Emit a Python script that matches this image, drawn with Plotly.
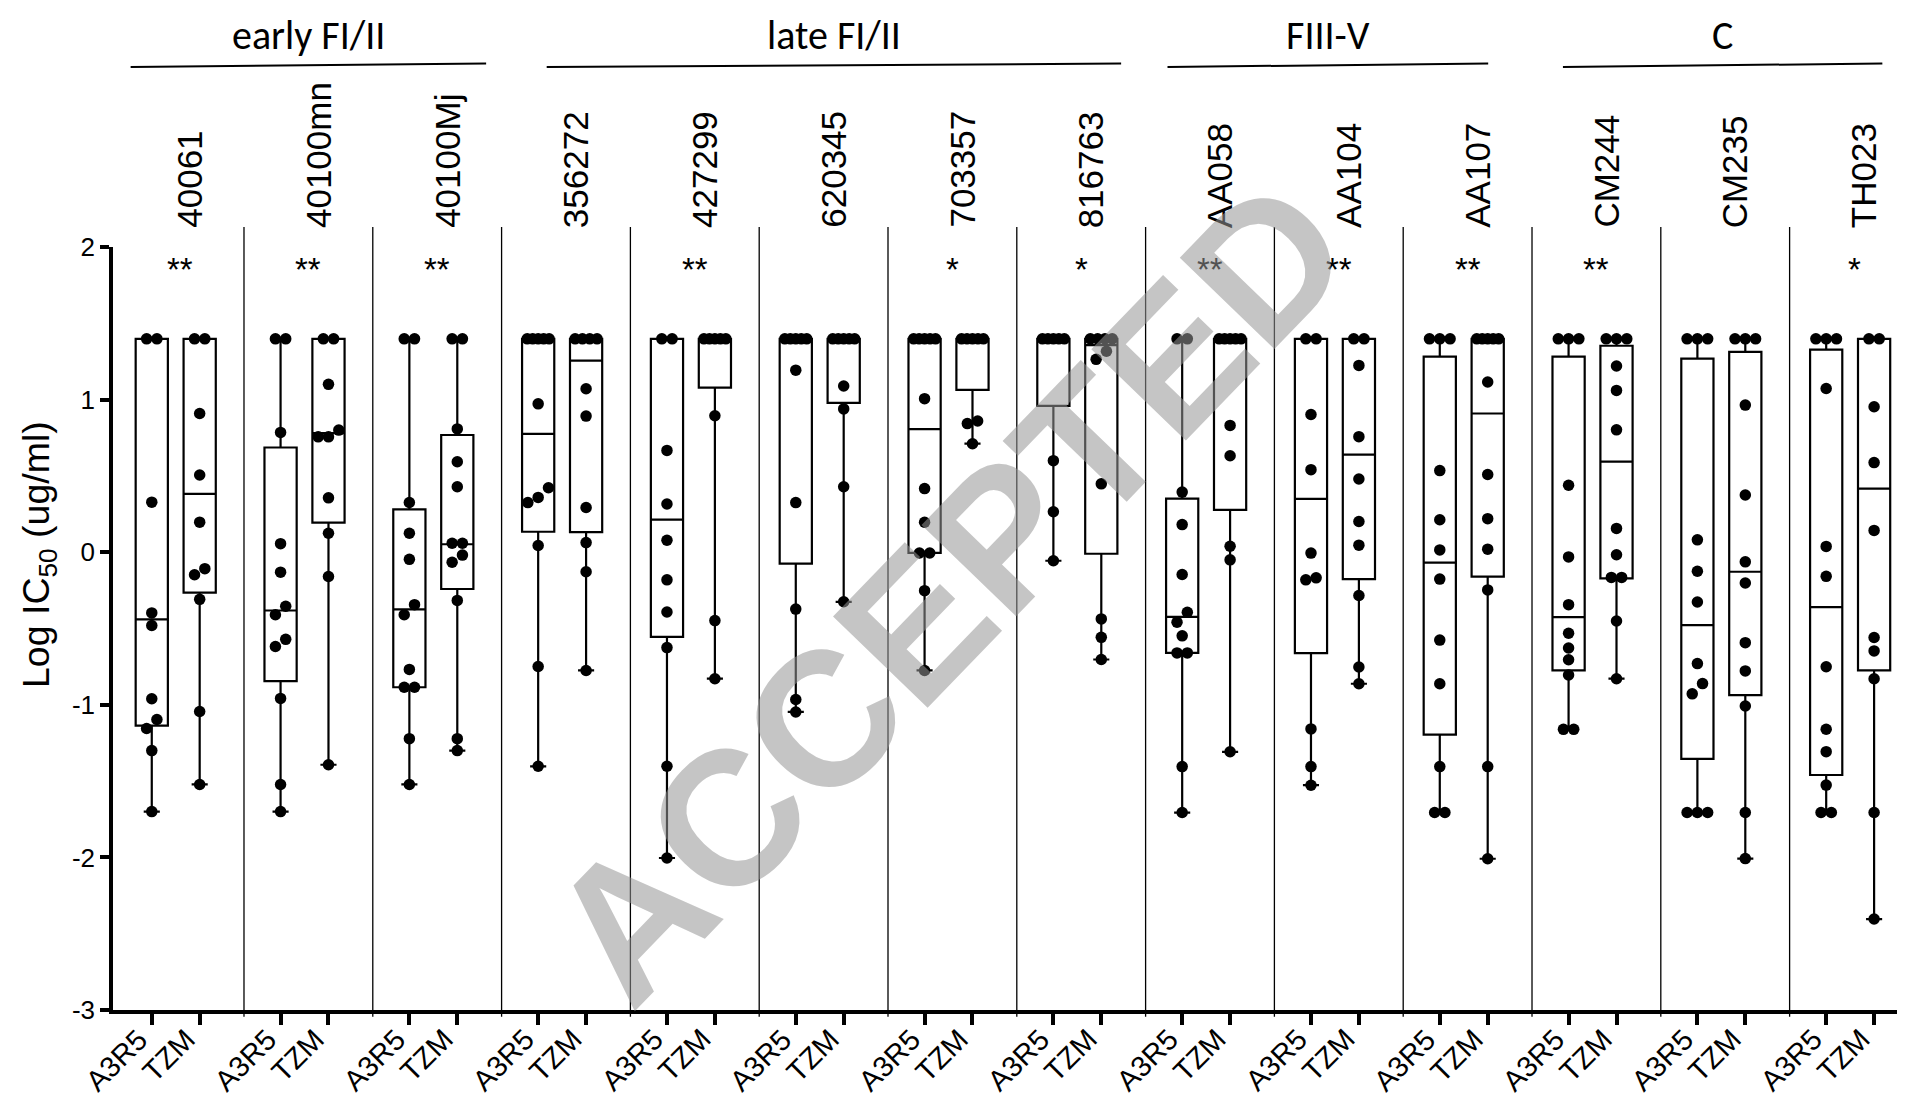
import plotly.graph_objects as go

# ---------------- data ----------------
strains = ["40061", "40100mn", "40100Mj", "356272", "427299", "620345", "703357",
           "816763", "AA058", "AA104", "AA107", "CM244", "CM235", "TH023"]
assays = ["A3R5", "TZM"]
significance = ["**", "**", "**", "", "**", "", "*", "*", "**", "**", "**", "**", "", "*"]
group_names = ["early FI/II", "late FI/II", "FIII-V", "C"]
group_first = [0, 3, 8, 11]
group_last = [2, 7, 10, 13]

T = 1.398  # log10(25), highest concentration tested

a3r5_values = [
    [T, T, 0.328, -0.398, -0.48, -0.96, -1.096, -1.155, -1.30, -1.70],
    [T, T, 0.785, 0.056, -0.131, -0.354, -0.41, -0.571, -0.618, -0.958, -1.522, -1.70],
    [T, T, 0.326, 0.124, -0.047, -0.344, -0.41, -0.768, -0.885, -0.885, -1.222, -1.522],
    [T, T, T, T, T, 0.972, 0.422, 0.359, 0.325, 0.044, -0.749, -1.403],
    [T, T, 0.667, 0.316, 0.078, -0.181, -0.392, -0.625, -1.403, -2.004],
    [T, T, T, T, T, 1.193, 0.325, -0.373, -0.965, -1.047],
    [T, T, T, T, T, 1.006, 0.417, 0.196, -0.005, -0.005, -0.252, -0.775],
    [T, T, T, T, T, 0.60, 0.265, -0.056],
    [T, T, 0.394, 0.181, -0.146, -0.394, -0.459, -0.548, -0.66, -0.66, -1.405, -1.706],
    [T, T, 0.902, 0.541, -0.006, -0.168, -0.181, -1.158, -1.405, -1.527],
    [T, T, T, 0.535, 0.213, 0.015, -0.176, -0.576, -0.862, -1.405, -1.706, -1.706],
    [T, T, T, 0.439, -0.031, -0.344, -0.531, -0.628, -0.705, -0.805, -1.161, -1.161],
    [T, T, T, 0.081, -0.125, -0.326, -0.730, -0.861, -0.928, -1.706, -1.706, -1.706],
    [T, T, T, 1.073, 0.038, -0.158, -0.751, -1.160, -1.307, -1.526, -1.706, -1.706],
]
tzm_values = [
    [T, T, 0.909, 0.506, 0.197, -0.108, -0.148, -0.309, -1.044, -1.522],
    [T, T, 1.10, 0.80, 0.756, 0.756, 0.356, 0.124, -0.159, -1.393],
    [T, T, 0.808, 0.593, 0.429, 0.059, 0.059, -0.019, -0.066, -0.316, -1.222, -1.30],
    [T, T, T, T, 1.071, 0.892, 0.293, 0.063, -0.128, -0.775],
    [T, T, T, T, T, 0.894, -0.448, -0.829],
    [T, T, T, T, T, 1.089, 0.939, 0.429, -0.325],
    [T, T, T, T, T, 0.86, 0.843, 0.711],
    [T, T, T, T, 1.317, 1.264, 0.448, -0.437, -0.558, -0.703],
    [T, T, T, T, T, 0.831, 0.632, 0.039, -0.05, -1.308],
    [T, T, 1.224, 0.757, 0.48, 0.201, 0.046, -0.284, -0.752, -0.862],
    [T, T, T, T, T, 1.115, 0.509, 0.22, 0.02, -0.247, -1.405, -2.009],
    [T, T, T, 1.22, 1.06, 0.802, 0.156, -0.017, -0.165, -0.165, -0.451, -0.829],
    [T, T, T, 0.964, 0.375, -0.063, -0.202, -0.593, -0.778, -1.008, -1.706, -2.008],
    [T, T, 0.953, 0.587, 0.143, -0.559, -0.647, -0.829, -1.706, -2.404],
]
a3r5_q1 = [-1.136, -0.845, -0.885, 0.134, -0.555, -0.075, -0.004, 0.959, -0.66, -0.662, -1.195, -0.775, -1.355, -1.46]
a3r5_median = [-0.44, -0.382, -0.375, 0.776, 0.214, T, 0.807, T, -0.424, 0.35, -0.068, -0.426, -0.478, -0.36]
a3r5_q3 = [T, 0.686, 0.281, T, T, T, T, T, 0.351, T, 1.282, 1.281, 1.268, 1.327]
tzm_q1 = [-0.265, 0.194, -0.241, 0.132, 1.078, 0.979, 1.064, -0.01, 0.277, -0.176, -0.16, -0.172, -0.936, -0.775]
tzm_median = [0.382, 0.78, 0.052, 1.256, T, T, T, 1.357, T, 0.639, 0.909, 0.594, -0.128, 0.417]
tzm_q3 = [T, T, 0.768, T, T, T, T, T, T, T, T, 1.353, 1.313, T]

y_ticks = [-3, -2, -1, 0, 1, 2]
y_ticktext = ["-3", "-2", "-1", "0", "1", "2"]

# ---------------- styling / layout constants ----------------
W, H = 1905, 1097
M_L, M_R, M_T, M_B = 105, 0, 239, 95
PLOT_W = W - M_L - M_R
PLOT_H = H - M_T - M_B
X_RANGE = [-0.017, 13.958]
UNIT_PX = PLOT_W / (X_RANGE[1] - X_RANGE[0])
POS_OFFSET = [0.284, 0.656]       # position of each assay inside a panel
BOX_WIDTH = 0.25
FONT = "Liberation Sans, Arial, Helvetica, sans-serif"
HEAD_FONT = "Carlito, Calibri, Lato, sans-serif"
line_pad_left = [0.12, 0.35, 0.17, 0.24]
line_pad_right = [0.12, 0.19, 0.34, 0.28]


def py(pixel_y):
    """pixel from top -> paper y"""
    return (H - M_B - pixel_y) / PLOT_H


def px(pixel_x):
    return (pixel_x - M_L) / PLOT_W


def swarm(vals, tol=0.07):
    """horizontal offsets for points that would overlap"""
    order = sorted(range(len(vals)), key=lambda k: vals[k])
    clusters, cur = [], [order[0]]
    for k in order[1:]:
        if vals[k] - vals[cur[-1]] <= tol:
            cur.append(k)
        else:
            clusters.append(cur)
            cur = [k]
    clusters.append(cur)
    offs = [0.0] * len(vals)
    for c in clusters:
        m = len(c)
        if m == 1:
            continue
        step = min(0.08, 0.17 / (m - 1))
        for j, k in enumerate(c):
            offs[k] = (j - (m - 1) / 2) * step
    return offs


fig = go.Figure()

all_vals = [a3r5_values, tzm_values]
all_q1 = [a3r5_q1, tzm_q1]
all_med = [a3r5_median, tzm_median]
all_q3 = [a3r5_q3, tzm_q3]

pts_x, pts_y = [], []
tickvals, ticktext = [], []
for i in range(len(strains)):
    for j in range(2):
        vals = all_vals[j][i]
        pos = i + POS_OFFSET[j]
        tickvals.append(pos)
        ticktext.append(assays[j])
        fig.add_trace(go.Box(
            x=[pos], q1=[all_q1[j][i]], median=[all_med[j][i]], q3=[all_q3[j][i]],
            lowerfence=[min(vals)], upperfence=[max(vals)],
            orientation="v", width=BOX_WIDTH, whiskerwidth=0.5,
            line=dict(color="black", width=2.2), fillcolor="white",
            boxpoints=False, showlegend=False, hoverinfo="skip"))
        offs = swarm(vals)
        for v, o in zip(vals, offs):
            pts_x.append(pos + o)
            pts_y.append(v)

fig.add_trace(go.Scatter(x=pts_x, y=pts_y, mode="markers",
                         marker=dict(color="black", size=11.5, line=dict(width=0)),
                         showlegend=False, hoverinfo="skip", cliponaxis=False))

shapes = []
# panel separators
for i in range(1, len(strains)):
    shapes.append(dict(type="line", xref="x", yref="paper", x0=i, x1=i,
                       y0=-0.009, y1=py(219), line=dict(color="black", width=1.3)))
# group header lines
for g in range(len(group_names)):
    x0 = group_first[g] + line_pad_left[g]
    x1 = group_last[g] + 1 - line_pad_right[g]
    shapes.append(dict(type="line", xref="x", yref="paper", x0=x0, x1=x1,
                       y0=py(59), y1=py(55.5), line=dict(color="black", width=2)))

annotations = []
for g in range(len(group_names)):
    xc = (group_first[g] + line_pad_left[g] + group_last[g] + 1 - line_pad_right[g]) / 2
    annotations.append(dict(text=group_names[g], x=xc, y=py(1), xref="x", yref="paper",
                            xanchor="center", yanchor="top", showarrow=False,
                            font=dict(family=HEAD_FONT, size=40, color="black")))
for i, s in enumerate(strains):
    annotations.append(dict(text=s, x=i + 0.575, y=py(222), xref="x", yref="paper",
                            xanchor="center", yanchor="bottom", textangle=-90,
                            showarrow=False,
                            font=dict(family=FONT, size=35, color="black")))
    if significance[i]:
        annotations.append(dict(text=significance[i], x=i + 0.5, y=1.85, xref="x", yref="y",
                                xanchor="center", yanchor="middle", showarrow=False,
                                font=dict(family=FONT, size=33, color="black")))
# x tick labels (rotated, end at the tick)
for pos, lab in zip(tickvals, ticktext):
    annotations.append(dict(text=lab, x=pos + 5 / UNIT_PX, y=py(1012), xref="x", yref="paper",
                            xanchor="right", yanchor="top", textangle=-45, showarrow=False,
                            font=dict(family=FONT, size=29, color="black")))
# y axis title
annotations.append(dict(text="Log IC<sub>50</sub> (ug/ml)", x=px(31), y=py(547),
                        xref="paper", yref="paper", xanchor="center", yanchor="middle",
                        textangle=-90, showarrow=False,
                        font=dict(family=FONT, size=37.5, color="black")))
# watermark
annotations.append(dict(text="<b>ACCEPTED</b>", x=6.47, y=-0.25, xref="x", yref="y",
                        xanchor="center", yanchor="middle", textangle=-46, showarrow=False,
                        font=dict(family=FONT, size=191, color="rgba(150,150,150,0.55)")))

fig.update_layout(
    width=W, height=H,
    margin=dict(l=M_L, r=M_R, t=M_T, b=M_B, pad=0),
    paper_bgcolor="white", plot_bgcolor="white",
    showlegend=False,
    shapes=shapes, annotations=annotations,
    xaxis=dict(range=X_RANGE, tickvals=tickvals, showticklabels=False,
               ticks="outside", ticklen=11, tickwidth=3.5, tickcolor="black",
               showline=True, linewidth=3.5, linecolor="black",
               showgrid=False, zeroline=False, automargin=False),
    yaxis=dict(range=[-3, 2], tickvals=y_ticks, ticktext=y_ticktext, ticks="outside",
               ticklen=9, tickwidth=3.5, tickcolor="black",
               showline=True, linewidth=3.5, linecolor="black",
               showgrid=False, zeroline=False, automargin=False,
               tickfont=dict(family=FONT, size=26, color="black")),
)

fig.write_html("out.html")
